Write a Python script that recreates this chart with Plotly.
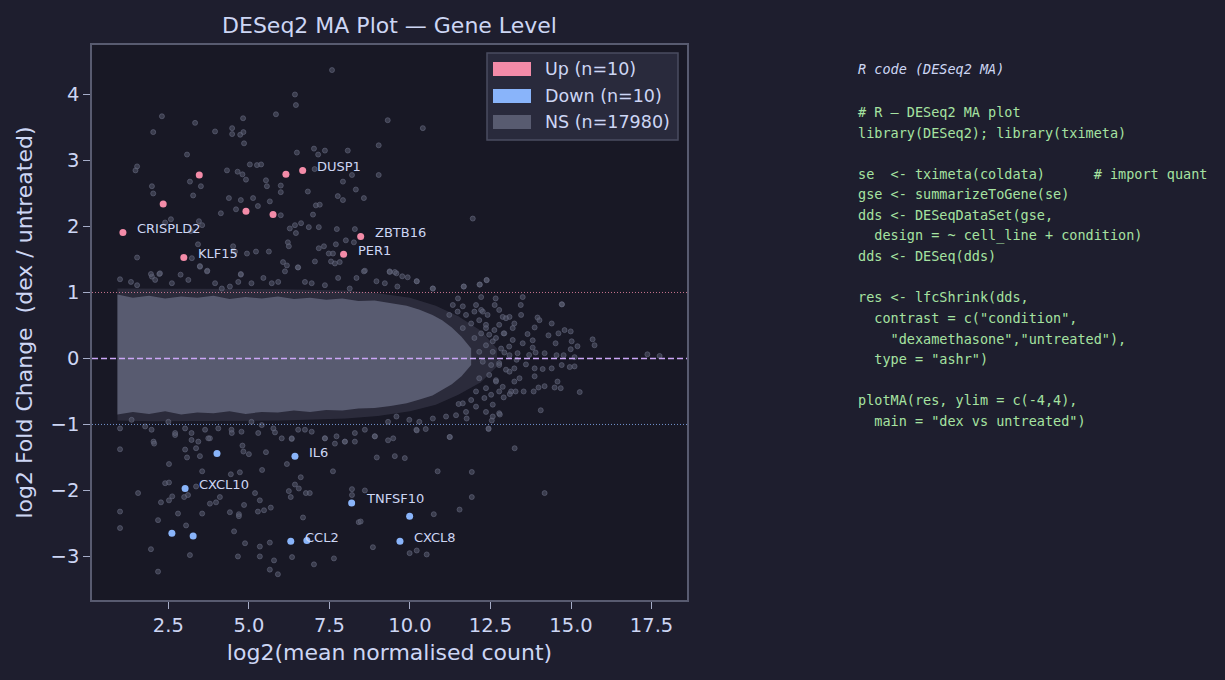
import plotly.graph_objects as go

# ---------------- data ----------------
up_x = [1.09, 2.34, 2.98, 3.46, 4.91, 5.75, 6.15, 6.67, 8.47, 7.94]
up_y = [1.91, 2.34, 1.53, 2.78, 2.23, 2.18, 2.79, 2.85, 1.85, 1.58]
up_lab = ["CRISPLD2", "", "KLF15", "", "", "", "", "DUSP1", "ZBTB16", "PER1"]

dn_x = [4.01, 6.43, 3.02, 8.19, 9.99, 2.61, 3.27, 6.30, 6.80, 9.69]
dn_y = [-1.44, -1.48, -1.97, -2.19, -2.39, -2.65, -2.69, -2.77, -2.76, -2.77]
dn_lab = ["", "IL6", "CXCL10", "TNFSF10", "", "", "", "CCL2", "", "CXCL8"]

# dense NS band (saturated region) and its sparse fringe envelope
band_x = [0.92, 1.4, 1.9, 2.4, 2.9, 3.4, 3.9, 4.4, 4.9, 5.4, 5.9, 6.4, 6.9, 7.4, 7.9,
          8.4, 8.9, 9.4, 9.9, 10.3, 10.7, 11.0, 11.3, 11.6, 11.9]
band_hi = [0.97, 0.92, 0.95, 0.91, 0.94, 0.92, 0.95, 0.90, 0.93, 0.91, 0.94, 0.90, 0.92, 0.89, 0.91,
           0.87, 0.88, 0.84, 0.80, 0.74, 0.66, 0.58, 0.47, 0.33, 0.15]
band_lo = [-0.85, -0.81, -0.84, -0.80, -0.85, -0.82, -0.83, -0.80, -0.84, -0.81, -0.82, -0.79, -0.81, -0.78, -0.79,
           -0.76, -0.75, -0.72, -0.68, -0.62, -0.56, -0.48, -0.39, -0.27, -0.10]

fringe_x = [0.92, 2.0, 4.0, 6.0, 8.0, 9.0, 10.0, 10.8, 11.5, 12.2, 12.7]
fringe_hi = [1.06, 1.06, 1.06, 1.05, 1.03, 0.99, 0.92, 0.80, 0.64, 0.42, 0.15]
fringe_lo = [-0.94, -0.95, -0.95, -0.94, -0.91, -0.87, -0.80, -0.70, -0.55, -0.36, -0.12]

# NS genes outside the dense band
ns_hi_x = [7.58, 6.43, 6.46, 2.30, 2.03, 3.33, 3.95, 4.48, 4.48, 4.73, 4.83, 4.82, 4.85, 5.84, 9.31,
           3.08, 6.49, 7.02, 7.15, 7.36, 8.07, 9.03, 1.48, 1.53, 5.03, 5.25, 5.38, 4.32, 4.65, 4.80,
           4.91, 3.17, 3.51, 1.99, 2.03, 3.27, 5.53, 5.56, 5.99, 5.99, 6.83, 7.04, 7.92, 8.20, 9.03,
           8.32, 7.76, 7.92, 8.57, 4.38, 4.75, 5.13, 5.65, 5.28, 4.60, 4.13, 5.99, 6.99, 7.08, 7.20,
           2.58, 2.40, 3.45, 3.55, 3.20, 6.27, 6.43, 6.62, 6.86, 7.17, 7.73, 8.29, 6.46, 8.01, 8.26,
           6.21, 6.24, 7.17, 7.33, 7.70, 7.48, 7.61, 3.42, 4.51, 4.57, 4.94, 5.22, 5.62, 1.53, 3.23,
           6.06, 6.18, 6.52, 7.05, 7.55, 7.67, 7.82, 3.48, 3.70, 8.57, 9.37, 9.53, 1.96, 2.24, 4.75,
           10.40, 11.95]
ns_hi_y = [4.37, 4.00, 3.84, 3.67, 3.43, 3.57, 3.44, 3.49, 3.40, 3.39, 3.43, 3.64, 3.26, 3.70, 3.61,
           3.09, 3.12, 3.18, 3.09, 3.15, 3.15, 3.23, 2.85, 2.91, 2.94, 2.93, 2.94, 2.85, 2.83, 2.79,
           2.71, 2.68, 2.61, 2.61, 2.50, 2.47, 2.70, 2.61, 2.62, 2.52, 2.53, 2.87, 2.68, 2.78, 2.78,
           2.56, 2.46, 2.40, 2.43, 2.43, 2.40, 2.43, 2.38, 2.31, 2.26, 2.20, 2.17, 2.18, 2.32, 2.33,
           2.11, 2.06, 2.08, 2.02, 1.93, 1.97, 2.02, 2.05, 1.99, 1.99, 1.96, 1.96, 1.90, 1.79, 1.76,
           1.76, 1.70, 1.67, 1.70, 1.73, 1.59, 1.59, 1.73, 1.70, 1.62, 1.59, 1.62, 1.62, 1.53, 1.52,
           1.46, 1.41, 1.38, 1.47, 1.47, 1.44, 1.46, 1.40, 1.32, 1.32, 1.31, 1.31, 1.28, 1.29, 1.28,
           3.49, 2.12]

ns_edge_x = [1.00, 1.34, 1.53, 1.99, 2.22, 2.09, 2.61, 2.88, 3.12, 3.48, 3.71, 3.95, 4.16, 4.41, 4.67,
             4.75, 5.08, 5.45, 5.71, 5.91, 6.12, 6.53, 6.74, 6.95, 7.36, 7.77, 8.13, 8.34, 8.60, 8.96,
             9.22, 9.37, 9.58, 9.61, 10.21, 9.76, 9.93, 10.71, 11.67, 12.16, 12.38, 10.21, 10.71, 11.67,
             12.17, 12.38,
             1.00, 1.36, 1.78, 2.04, 2.50, 2.71, 3.02, 3.22, 3.43, 3.64, 3.79, 4.05, 4.46, 4.77, 5.08,
             5.40, 5.76, 6.02, 6.33, 6.53, 6.95, 7.36, 7.72, 7.98, 8.29, 8.60, 8.91, 9.32, 9.48, 9.58,
             1.98, 2.71, 3.22, 3.74, 4.47, 5.29, 5.81, 6.33, 6.74, 7.36, 7.67, 7.98, 8.29, 8.91, 9.32,
             10.20, 10.21, 10.49, 11.24, 11.76, 12.44, 12.54, 12.79]
ns_edge_y = [1.20, 1.16, 1.11, 1.24, 1.28, 1.19, 1.14, 1.27, 1.19, 1.39, 1.33, 1.14, 1.06, 1.09, 1.16,
             1.27, 1.14, 1.22, 1.14, 1.16, 1.32, 1.38, 1.16, 1.14, 1.11, 1.22, 1.06, 1.22, 1.33, 1.17,
             1.14, 1.32, 1.29, 1.09, 1.17, 1.245, 1.23, 1.06, 1.09, 1.12, 1.185, 1.17, 1.06, 1.09,
             1.12, 1.19,
             -1.06, -0.93, -1.03, -1.26, -0.96, -1.16, -1.06, -1.13, -1.26, -1.08, -1.21, -1.06, -1.08, -1.11, -0.96,
             -1.01, -1.06, -1.21, -1.22, -1.08, -1.11, -1.21, -1.18, -1.26, -1.13, -1.08, -1.18, -0.96, -1.21, -0.88,
             -1.08, -1.13, -1.235, -1.21, -1.13, -1.13, -1.12, -1.21, -1.08, -1.21, -1.29, -1.26, -1.26, -1.18, -1.24,
             -1.08, -1.09, -1.07, -1.19, -0.91, -1.06, -0.94, -0.85]

# NS genes in the thinning high-count tail
ns_tail_x = [13.50, 14.71, 13.44, 12.63, 12.66, 12.21, 11.49, 13.96, 14.02, 14.40, 13.87, 14.80, 14.99,
             14.61, 14.30, 15.67, 15.73, 15.20, 15.02, 14.52, 17.37, 17.75, 15.11, 14.99, 14.77, 14.55,
             14.18, 13.90, 14.71, 14.96, 15.11, 14.40, 14.12, 13.87, 13.87, 14.58, 14.49, 14.68, 15.27,
             14.18, 13.99, 13.84, 13.53, 13.28, 13.10, 12.91, 14.06, 11.51, 13.19, 12.91, 13.65, 13.81,
             13.08, 12.93, 13.31, 13.60, 13.09, 13.40, 12.67, 12.77, 12.57, 12.36, 12.98, 13.45, 12.77,
             12.26, 12.05, 13.81, 13.70, 14.72]
ns_tail_y = [0.93, 0.82, 0.81, 0.81, 0.91, 0.93, 0.91, 0.62, 0.58, 0.53, 0.47, 0.43, 0.41,
             0.38, 0.35, 0.29, 0.20, 0.185, 0.26, 0.23, 0.063, 0.038, 0.02, 0.14, 0.05, 0.05,
             0.08, 0.09, -0.10, -0.13, -0.12, -0.15, -0.16, -0.15, -0.27, -0.35, -0.44, -0.45, -0.51,
             -0.42, -0.44, -0.50, -0.50, -0.50, -0.54, -0.59, -0.785, -0.69, 0.46, 0.38, 0.37, 0.275,
             0.18, 0.09, -0.02, -0.09, -0.20, -0.30, -0.35, -0.10, 0.26, 0.51, 0.61, 0.66, 0.735,
             0.71, 0.81, 0.164, 0.053, 0.82]

ns_mid_x = [11.33, 11.64, 11.48, 11.22, 11.74, 12.00, 12.21, 12.41, 12.15, 11.90, 11.64, 12.36, 12.62,
            12.88, 13.09, 13.24, 12.77, 12.46, 12.21, 12.00, 12.67, 12.93, 13.19, 13.50, 12.36, 12.15,
            12.57, 12.83, 13.09, 13.34, 12.26, 12.52, 12.77, 12.98, 13.24, 12.46, 12.15, 12.67, 12.88,
            13.24, 12.36, 12.05, 12.52, 12.77, 13.14, 12.31, 11.90, 11.64, 12.05, 12.57, 12.36, 11.74,
            11.43, 11.12, 10.71, 10.29, 9.98, 12.57, 12.77]
ns_mid_y = [0.81, 0.79, 0.71, 0.66, 0.66, 0.71, 0.735, 0.66, 0.58, 0.53, 0.46, 0.46, 0.43,
            0.63, 0.63, 0.53, 0.51, 0.36, 0.38, 0.31, 0.31, 0.38, 0.28, 0.23, 0.20, 0.10,
            0.10, 0.15, 0.05, 0.08, -0.05, -0.10, -0.07, -0.17, -0.15, -0.25, -0.30, -0.33, -0.43,
            -0.35, -0.45, -0.50, -0.55, -0.50, -0.50, -0.60, -0.63, -0.68, -0.73, -0.70, -0.81, -0.81,
            -0.86, -0.88, -0.91, -0.96, -0.93, -0.88, -0.83]

ns_lo_x = [1.00, 2.06, 2.52, 3.02, 3.08, 3.48, 3.55, 3.36, 4.80, 4.83, 5.00, 5.53, 5.41, 4.44, 4.72,
           6.18, 6.61, 7.61, 8.97, 9.53, 9.84, 2.40, 2.52, 1.56, 2.27, 2.52, 2.62, 2.99, 3.11, 3.36,
           3.79, 3.98, 4.10, 5.19, 5.34, 4.85, 6.24, 6.30, 6.43, 6.55, 6.77, 6.89, 8.20, 8.20, 8.60,
           1.00, 2.18, 2.80, 3.55, 4.41, 4.69, 4.69, 5.28, 5.47, 5.68, 6.68, 8.41, 8.47, 1.00, 3.05,
           4.54, 1.96, 3.17, 4.88, 5.34, 5.65, 4.66, 5.34, 5.78, 6.34, 7.02, 7.64, 5.65, 5.90, 2.18,
           8.85, 9.99, 10.21, 10.86, 11.92, 13.25, 14.18, 11.92, 11.54, 10.74, 10.52, 11.23, 12.44]
ns_lo_y = [-1.376, -1.29, -1.60, -1.38, -1.50, -1.48, -1.71, -1.36, -1.32, -1.41, -1.45, -1.42, -1.69, -1.755, -1.725,
           -1.60, -1.80, -1.71, -1.50, -1.48, -1.51, -1.89, -1.88, -2.04, -2.18, -2.15, -2.09, -2.10, -2.07, -1.94,
           -2.20, -2.18, -2.10, -2.04, -2.15, -2.22, -2.01, -2.10, -1.91, -1.97, -2.04, -2.04, -1.98, -2.07, -2.00,
           -2.32, -2.45, -2.35, -2.35, -2.33, -2.36, -2.39, -2.32, -2.30, -2.26, -2.41, -2.48, -2.47, -2.57, -2.53,
           -2.62, -2.89, -2.98, -2.80, -2.85, -2.79, -3.00, -3.00, -3.06, -3.01, -3.12, -3.03, -3.20, -3.27, -3.23,
           -2.86, -2.95, -2.91, -1.71, -1.72, -1.36, -2.04, -2.10, -2.29, -2.36, -2.97, -1.19, -1.07]

x_ticks = [2.5, 5.0, 7.5, 10.0, 12.5, 15.0, 17.5]
y_ticks = [-3, -2, -1, 0, 1, 2, 3, 4]

legend_labels = ["Up (n=10)", "Down (n=10)", "NS (n=17980)"]

code_title = "R code (DESeq2 MA)"
code_lines = [
    "# R — DESeq2 MA plot",
    "library(DESeq2); library(tximeta)",
    "",
    "se  <- tximeta(coldata)      # import quant",
    "gse <- summarizeToGene(se)",
    "dds <- DESeqDataSet(gse,",
    "  design = ~ cell_line + condition)",
    "dds <- DESeq(dds)",
    "",
    "res <- lfcShrink(dds,",
    "  contrast = c(\"condition\",",
    "    \"dexamethasone\",\"untreated\"),",
    "  type = \"ashr\")",
    "",
    "plotMA(res, ylim = c(-4,4),",
    "  main = \"dex vs untreated\")",
]

# ---------------- styling ----------------
PAPER = "#1e1e2e"
PLOT = "#181825"
TEXT = "#cdd6f4"
UP = "#f38ba8"
DOWN = "#89b4fa"
NS = "#585b70"
FONT = "DejaVu Sans"

W, H = 1225, 680
L, R, T, B = 92, 538, 45, 80
PW, PH = W - L - R, H - T - B


def px_x(px):
    return (px - L) / PW


def px_y(py):
    return (H - B - py) / PH


fig = go.Figure()

for xs, hi, lo, col in [(fringe_x, fringe_hi, fringe_lo, "rgba(88,91,112,0.3)"),
                        (band_x, band_hi, band_lo, NS)]:
    fig.add_trace(go.Scatter(
        x=xs + xs[::-1], y=hi + lo[::-1], fill="toself", fillcolor=col,
        line=dict(width=0), mode="lines", hoverinfo="skip", showlegend=False))

ns_marker = dict(size=5, color="rgba(88,91,112,0.55)",
                 line=dict(width=0.8, color="rgba(100,104,126,0.75)"))
for xs, ys in [(ns_mid_x, ns_mid_y), (ns_edge_x, ns_edge_y), (ns_tail_x, ns_tail_y),
               (ns_hi_x, ns_hi_y), (ns_lo_x, ns_lo_y)]:
    fig.add_trace(go.Scatter(x=xs, y=ys, mode="markers", marker=ns_marker,
                             hoverinfo="skip", showlegend=False))

fig.add_trace(go.Scatter(x=up_x, y=up_y, mode="markers",
                         marker=dict(size=7, color=UP, line=dict(width=0)),
                         showlegend=False))
fig.add_trace(go.Scatter(x=dn_x, y=dn_y, mode="markers",
                         marker=dict(size=7, color=DOWN, line=dict(width=0)),
                         showlegend=False))

annotations = []
for xs, ys, labs in [(up_x, up_y, up_lab), (dn_x, dn_y, dn_lab)]:
    for x, y, lab in zip(xs, ys, labs):
        if lab:
            annotations.append(dict(
                x=x, y=y, xref="x", yref="y", text=lab, showarrow=False,
                xanchor="left", yanchor="middle", xshift=12, yshift=4,
                font=dict(family=FONT, size=13, color=TEXT)))

shapes = [
    dict(type="line", xref="x domain", yref="y", x0=0, x1=1, y0=0, y1=0,
         line=dict(color="#cba6f7", width=1.5, dash="6px,3px"), layer="above"),
    dict(type="line", xref="x domain", yref="y", x0=0, x1=1, y0=1, y1=1,
         line=dict(color="rgba(243,139,168,0.8)", width=1, dash="1px,2px"), layer="above"),
    dict(type="line", xref="x domain", yref="y", x0=0, x1=1, y0=-1, y1=-1,
         line=dict(color="rgba(137,180,250,0.8)", width=1, dash="1px,2px"), layer="above"),
]

# legend box with patch swatches
shapes.append(dict(type="rect", xref="paper", yref="paper",
                   x0=px_x(487), x1=px_x(678), y0=px_y(140), y1=px_y(53),
                   fillcolor="#292a3c", line=dict(color="#4a4c60", width=1.5),
                   layer="above"))
patch_cols = [UP, DOWN, NS]
patch_tops = [62, 89, 115]
for col, top, lab in zip(patch_cols, patch_tops, legend_labels):
    shapes.append(dict(type="rect", xref="paper", yref="paper",
                       x0=px_x(493), x1=px_x(531), y0=px_y(top + 14), y1=px_y(top),
                       fillcolor=col, line=dict(width=0), layer="above"))
    annotations.append(dict(x=px_x(543), y=px_y(top + 7), xref="paper", yref="paper",
                            text=lab, showarrow=False, xanchor="left", yanchor="middle",
                            font=dict(family=FONT, size=17.5, color=TEXT)))

# code panel
annotations.append(dict(x=px_x(856), y=px_y(69), xref="paper", yref="paper",
                        text="<i>" + code_title + "</i>", showarrow=False,
                        xanchor="left", yanchor="middle",
                        font=dict(family="DejaVu Sans Mono", size=13.5, color=TEXT)))
for i, line in enumerate(code_lines):
    if not line:
        continue
    annotations.append(dict(x=px_x(856), y=px_y(112 + 20.6 * i), xref="paper", yref="paper",
                            text=line.replace(" ", "\u00a0"), showarrow=False,
                            xanchor="left", yanchor="middle",
                            font=dict(family="DejaVu Sans Mono", size=13.5, color="#a6e3a1")))

axis_common = dict(
    showgrid=False, zeroline=False, showline=True, mirror=True,
    linecolor="#585b70", linewidth=1.5, ticks="outside", ticklen=7,
    tickwidth=1.3, tickcolor="#a6adc8",
    tickfont=dict(family=FONT, size=19.5, color=TEXT),
)

fig.update_layout(
    width=W, height=H,
    margin=dict(l=L, r=R, t=T, b=B),
    paper_bgcolor=PAPER, plot_bgcolor=PLOT,
    title=dict(text="DESeq2 MA Plot — Gene Level", x=0.5, xref="paper", xanchor="center",
               y=1 - 25 / H, yref="container", yanchor="middle",
               font=dict(family=FONT, size=22, color=TEXT)),
    xaxis=dict(axis_common, range=[0.13, 18.6], tickvals=x_ticks, tickformat=".1f",
               title=dict(text="log2(mean normalised count)", standoff=8,
                          font=dict(family=FONT, size=22, color=TEXT))),
    yaxis=dict(axis_common, range=[-3.66, 4.75], tickvals=y_ticks,
               title=dict(text="log2 Fold Change \u00a0(dex / untreated)", standoff=12,
                          font=dict(family=FONT, size=22, color=TEXT))),
    shapes=shapes,
    annotations=annotations,
    showlegend=False,
)

fig.write_html("out.html")
